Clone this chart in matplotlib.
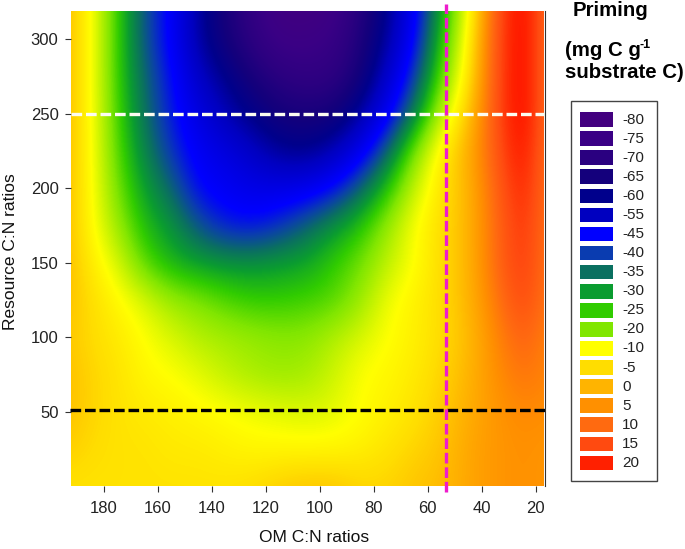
import numpy as np
import matplotlib
matplotlib.use("Agg")
import matplotlib.pyplot as plt
from matplotlib.colors import LinearSegmentedColormap
from matplotlib.patches import Rectangle

plt.rcParams['font.family'] = ['Liberation Sans', 'DejaVu Sans']

# Legend classes
legendVals = [-80, -75, -70, -65, -60, -55, -45, -40, -35, -30, -25, -20, -10, -5, 0, 5, 10, 15, 20]
legendCols = ['#43007f', '#3a0085', '#2a0080', '#14007c', '#00008c', '#0000c0', '#0000ff', '#0a3cb0',
              '#0a7060', '#0a9c30', '#30cc00', '#80e600', '#ffff00', '#ffdd00', '#ffb400', '#ff9000',
              '#ff6a10', '#ff4a10', '#ff2000']

# Values, bottom row first
omCN = [195, 185, 175, 165, 155, 145, 135, 125, 115, 105, 95, 85, 75, 65, 55, 45, 35, 25, 15]
resCN = [0, 25, 50, 75, 100, 125, 150, 175, 200, 225, 250, 275, 300, 325]
priming = [
    [-6, -6, -6, -6, -6, -6, -6, -5, -3, -2, -2, -4, -4, -2, -1, 2, 4, 5, 4],
    [-3, -5, -6, -6, -7, -7, -8, -9, -9, -9, -9, -8, -6, -4, -2, 2, 4, 5, 4],
    [-1, -4, -6, -7, -8, -9, -10, -11, -12, -13, -12, -10, -8, -6, -3, 1, 4, 6, 5],
    [-1, -4, -6, -9, -10, -12, -15, -17, -18, -17, -14, -10, -9, -7, -4, 0, 5, 9, 6],
    [-2, -5, -7, -10, -13, -16, -17, -18, -19, -19, -16, -13, -10, -8, -5, -1, 6, 12, 6],
    [-1, -5, -9, -13, -18, -20, -23, -25, -25, -24, -23, -18, -11, -8, -5, 0, 8, 16, 7],
    [0, -7, -13, -23, -28, -30, -31, -31, -30, -29, -25, -21, -15, -10, -5, 0, 10, 18, 7],
    [0, -9, -18, -27, -31, -38, -43, -44, -41, -36, -31, -26, -18, -10, -5, 0, 10, 19, 7],
    [0, -9, -21, -30, -36, -45, -47, -49, -49, -48, -44, -36, -26, -14, -6, 0, 11, 21, 7],
    [0, -9, -23, -33, -41, -47, -50, -54, -59, -60, -56, -48, -36, -20, -7, 1, 13, 23, 7],
    [0, -9, -24, -35, -43, -50, -56, -61, -65, -66, -65, -58, -47, -33, -15, -2, 14, 25, 7],
    [0, -9, -25, -36, -44, -54, -60, -66, -70, -72, -71, -65, -53, -40, -22, -6, 14, 25, 7],
    [0, -9, -25, -38, -46, -58, -65, -71, -76, -76, -74, -67, -58, -45, -26, -8, 14, 25, 7],
    [0, -9, -25, -38, -46, -58, -66, -73, -79, -80, -77, -69, -60, -47, -29, -11, 13, 25, 7],
]

xTicks = [180, 160, 140, 120, 100, 80, 60, 40, 20]
yTicks = [50, 100, 150, 200, 250, 300]

# The surface runs a little past the last legend class, into pure red
vmin, vmax = min(legendVals), 25
stops = [(v - vmin) / (vmax - vmin) for v in legendVals] + [1]
cmap = LinearSegmentedColormap.from_list('priming', list(zip(stops, legendCols + ['#ff0000'])), N=512)

W, H = 685, 549
fig = plt.figure(figsize=(W / 100, H / 100), dpi=100)
ax = fig.add_axes([71 / W, 1 - 486 / H, 474 / W, 475 / H])

im = ax.imshow(priming, origin='lower', aspect='auto', cmap=cmap, vmin=vmin, vmax=vmax,
               interpolation='bicubic',
               extent=[omCN[0] + 5, omCN[-1] - 5, resCN[0] - 12.5, resCN[-1] + 12.5])
ax.set_xlim(192.2, 16.6)
ax.set_ylim(0, 319)
im.set_clip_path(Rectangle((17.3, 0), 175, 319, transform=ax.transData))

ax.set_xticks(xTicks)
ax.set_yticks(yTicks)
ax.tick_params(labelsize=12, length=4, width=0.8, color='#333333', labelcolor='#222222')
ax.tick_params(axis='x', pad=7)
ax.tick_params(axis='y', pad=5)
for s in ['top', 'left', 'bottom']:
    ax.spines[s].set_visible(False)
ax.spines['right'].set_color('#333333')

fig.text(314 / W, 1 - 538 / H, "OM C:N ratios", fontsize=12.5, ha='center', va='center', color='#111111')
fig.text(11 / W, 1 - 252 / H, "Resource C:N ratios", fontsize=12.5, rotation=90, ha='center', va='center',
         color='#111111')

ax.plot([192.2, 15.8], [250, 250], color='#fbfbf0', lw=2.4, dashes=(3.2, 1.15), clip_on=False)
ax.plot([192.6, 15.6], [51, 51], color='black', lw=2.4, dashes=(3.2, 1.15), clip_on=False)
ax.plot([53.3, 53.3], [-4, 324], color='#ee1ccc', lw=2.4, dashes=(3.2, 1.15), clip_on=False)

# Title block
fig.text(573 / W, 1 - 10 / H, "Priming", fontsize=14.7, fontweight='bold', va='center')
fig.text(565 / W, 1 - 50 / H, "(mg C g", fontsize=14.7, fontweight='bold', va='center')
fig.text(640 / W, 1 - 45 / H, "-1", fontsize=9, fontweight='bold', va='center')
fig.text(565 / W, 1 - 73 / H, "substrate C)", fontsize=14.7, fontweight='bold', va='center')

# Legend
fig.add_artist(Rectangle((571 / W, 1 - 480.5 / H), 86 / W, 380 / H, transform=fig.transFigure,
                         fc='white', ec='#444444', lw=1))
for i, (v, c) in enumerate(zip(legendVals, legendCols)):
    yc = 119.5 + i * 19.08
    fig.add_artist(Rectangle((580 / W, 1 - (yc + 7.3) / H), 33 / W, 14.6 / H, transform=fig.transFigure,
                             fc=c, ec='none'))
    fig.text(622 / W, 1 - yc / H, str(v), fontsize=11, va='center', color='#222222')

fig.savefig('out.png', dpi=100)
